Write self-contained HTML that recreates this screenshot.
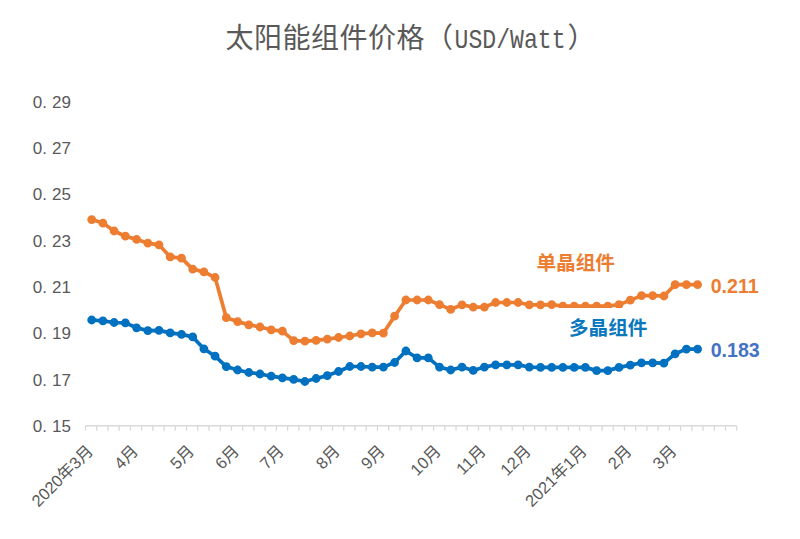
<!DOCTYPE html>
<html lang="zh"><head><meta charset="utf-8"><title>Solar module price</title>
<style>
html,body{margin:0;padding:0;background:#fff;font-family:"Liberation Sans",sans-serif;}
body{width:800px;height:539px;overflow:hidden;}
svg{display:block;}
</style></head><body>
<svg width="800" height="539" viewBox="0 0 800 539" role="img" aria-label="太阳能组件价格（USD/Watt）"><title>太阳能组件价格（USD/Watt）</title><desc>单晶组件 0.211, 多晶组件 0.183; 2020年3月 – 2021年3月; y axis 0.15 – 0.29</desc><rect width="800" height="539" fill="#fff"/>
<path d="M85.50 425.75H736.75M85.50 425.75v5M96.73 425.75v5M107.96 425.75v5M119.19 425.75v5M130.41 425.75v5M141.64 425.75v5M152.87 425.75v5M164.10 425.75v5M175.33 425.75v5M186.56 425.75v5M197.78 425.75v5M209.01 425.75v5M220.24 425.75v5M231.47 425.75v5M242.70 425.75v5M253.93 425.75v5M265.16 425.75v5M276.38 425.75v5M287.61 425.75v5M298.84 425.75v5M310.07 425.75v5M321.30 425.75v5M332.53 425.75v5M343.75 425.75v5M354.98 425.75v5M366.21 425.75v5M377.44 425.75v5M388.67 425.75v5M399.90 425.75v5M411.12 425.75v5M422.35 425.75v5M433.58 425.75v5M444.81 425.75v5M456.04 425.75v5M467.27 425.75v5M478.50 425.75v5M489.72 425.75v5M500.95 425.75v5M512.18 425.75v5M523.41 425.75v5M534.64 425.75v5M545.87 425.75v5M557.09 425.75v5M568.32 425.75v5M579.55 425.75v5M590.78 425.75v5M602.01 425.75v5M613.24 425.75v5M624.47 425.75v5M635.69 425.75v5M646.92 425.75v5M658.15 425.75v5M669.38 425.75v5M680.61 425.75v5M691.84 425.75v5M703.06 425.75v5M714.29 425.75v5M725.52 425.75v5M736.75 425.75v5" fill="none" stroke="#D9D9D9" stroke-width="1.3"/>
<polyline points="91.7,219.6 102.9,223.1 114.1,231.0 125.4,236.2 136.6,239.4 147.8,243.1 159.0,244.8 170.2,256.9 181.5,258.2 192.7,269.1 203.9,271.9 215.1,277.5 226.3,317.7 237.6,321.6 248.8,324.8 260.0,327.0 271.2,329.8 282.4,331.2 293.7,340.6 304.9,341.2 316.1,340.4 327.3,339.1 338.5,337.5 349.8,336.0 361.0,333.8 372.2,332.9 383.4,333.1 394.6,316.2 405.9,300.0 417.1,300.0 428.3,300.0 439.5,304.6 450.7,309.4 462.0,304.8 473.2,307.1 484.4,307.1 495.6,302.5 506.8,302.5 518.1,302.5 529.3,304.8 540.5,304.8 551.7,304.6 562.9,306.2 574.2,306.2 585.4,306.2 596.6,306.2 607.8,306.2 619.0,304.6 630.3,300.2 641.5,295.6 652.7,295.6 663.9,296.0 675.1,284.6 686.4,284.6 697.6,284.6" fill="none" stroke="#ED7D31" stroke-width="3.7" stroke-linejoin="round" stroke-linecap="round"/><path d="M91.7 219.6m-4.4 0a4.4 4.4 0 1 0 8.8 0a4.4 4.4 0 1 0 -8.8 0zM102.9 223.1m-4.4 0a4.4 4.4 0 1 0 8.8 0a4.4 4.4 0 1 0 -8.8 0zM114.1 231.0m-4.4 0a4.4 4.4 0 1 0 8.8 0a4.4 4.4 0 1 0 -8.8 0zM125.4 236.2m-4.4 0a4.4 4.4 0 1 0 8.8 0a4.4 4.4 0 1 0 -8.8 0zM136.6 239.4m-4.4 0a4.4 4.4 0 1 0 8.8 0a4.4 4.4 0 1 0 -8.8 0zM147.8 243.1m-4.4 0a4.4 4.4 0 1 0 8.8 0a4.4 4.4 0 1 0 -8.8 0zM159.0 244.8m-4.4 0a4.4 4.4 0 1 0 8.8 0a4.4 4.4 0 1 0 -8.8 0zM170.2 256.9m-4.4 0a4.4 4.4 0 1 0 8.8 0a4.4 4.4 0 1 0 -8.8 0zM181.5 258.2m-4.4 0a4.4 4.4 0 1 0 8.8 0a4.4 4.4 0 1 0 -8.8 0zM192.7 269.1m-4.4 0a4.4 4.4 0 1 0 8.8 0a4.4 4.4 0 1 0 -8.8 0zM203.9 271.9m-4.4 0a4.4 4.4 0 1 0 8.8 0a4.4 4.4 0 1 0 -8.8 0zM215.1 277.5m-4.4 0a4.4 4.4 0 1 0 8.8 0a4.4 4.4 0 1 0 -8.8 0zM226.3 317.7m-4.4 0a4.4 4.4 0 1 0 8.8 0a4.4 4.4 0 1 0 -8.8 0zM237.6 321.6m-4.4 0a4.4 4.4 0 1 0 8.8 0a4.4 4.4 0 1 0 -8.8 0zM248.8 324.8m-4.4 0a4.4 4.4 0 1 0 8.8 0a4.4 4.4 0 1 0 -8.8 0zM260.0 327.0m-4.4 0a4.4 4.4 0 1 0 8.8 0a4.4 4.4 0 1 0 -8.8 0zM271.2 329.8m-4.4 0a4.4 4.4 0 1 0 8.8 0a4.4 4.4 0 1 0 -8.8 0zM282.4 331.2m-4.4 0a4.4 4.4 0 1 0 8.8 0a4.4 4.4 0 1 0 -8.8 0zM293.7 340.6m-4.4 0a4.4 4.4 0 1 0 8.8 0a4.4 4.4 0 1 0 -8.8 0zM304.9 341.2m-4.4 0a4.4 4.4 0 1 0 8.8 0a4.4 4.4 0 1 0 -8.8 0zM316.1 340.4m-4.4 0a4.4 4.4 0 1 0 8.8 0a4.4 4.4 0 1 0 -8.8 0zM327.3 339.1m-4.4 0a4.4 4.4 0 1 0 8.8 0a4.4 4.4 0 1 0 -8.8 0zM338.5 337.5m-4.4 0a4.4 4.4 0 1 0 8.8 0a4.4 4.4 0 1 0 -8.8 0zM349.8 336.0m-4.4 0a4.4 4.4 0 1 0 8.8 0a4.4 4.4 0 1 0 -8.8 0zM361.0 333.8m-4.4 0a4.4 4.4 0 1 0 8.8 0a4.4 4.4 0 1 0 -8.8 0zM372.2 332.9m-4.4 0a4.4 4.4 0 1 0 8.8 0a4.4 4.4 0 1 0 -8.8 0zM383.4 333.1m-4.4 0a4.4 4.4 0 1 0 8.8 0a4.4 4.4 0 1 0 -8.8 0zM394.6 316.2m-4.4 0a4.4 4.4 0 1 0 8.8 0a4.4 4.4 0 1 0 -8.8 0zM405.9 300.0m-4.4 0a4.4 4.4 0 1 0 8.8 0a4.4 4.4 0 1 0 -8.8 0zM417.1 300.0m-4.4 0a4.4 4.4 0 1 0 8.8 0a4.4 4.4 0 1 0 -8.8 0zM428.3 300.0m-4.4 0a4.4 4.4 0 1 0 8.8 0a4.4 4.4 0 1 0 -8.8 0zM439.5 304.6m-4.4 0a4.4 4.4 0 1 0 8.8 0a4.4 4.4 0 1 0 -8.8 0zM450.7 309.4m-4.4 0a4.4 4.4 0 1 0 8.8 0a4.4 4.4 0 1 0 -8.8 0zM462.0 304.8m-4.4 0a4.4 4.4 0 1 0 8.8 0a4.4 4.4 0 1 0 -8.8 0zM473.2 307.1m-4.4 0a4.4 4.4 0 1 0 8.8 0a4.4 4.4 0 1 0 -8.8 0zM484.4 307.1m-4.4 0a4.4 4.4 0 1 0 8.8 0a4.4 4.4 0 1 0 -8.8 0zM495.6 302.5m-4.4 0a4.4 4.4 0 1 0 8.8 0a4.4 4.4 0 1 0 -8.8 0zM506.8 302.5m-4.4 0a4.4 4.4 0 1 0 8.8 0a4.4 4.4 0 1 0 -8.8 0zM518.1 302.5m-4.4 0a4.4 4.4 0 1 0 8.8 0a4.4 4.4 0 1 0 -8.8 0zM529.3 304.8m-4.4 0a4.4 4.4 0 1 0 8.8 0a4.4 4.4 0 1 0 -8.8 0zM540.5 304.8m-4.4 0a4.4 4.4 0 1 0 8.8 0a4.4 4.4 0 1 0 -8.8 0zM551.7 304.6m-4.4 0a4.4 4.4 0 1 0 8.8 0a4.4 4.4 0 1 0 -8.8 0zM562.9 306.2m-4.4 0a4.4 4.4 0 1 0 8.8 0a4.4 4.4 0 1 0 -8.8 0zM574.2 306.2m-4.4 0a4.4 4.4 0 1 0 8.8 0a4.4 4.4 0 1 0 -8.8 0zM585.4 306.2m-4.4 0a4.4 4.4 0 1 0 8.8 0a4.4 4.4 0 1 0 -8.8 0zM596.6 306.2m-4.4 0a4.4 4.4 0 1 0 8.8 0a4.4 4.4 0 1 0 -8.8 0zM607.8 306.2m-4.4 0a4.4 4.4 0 1 0 8.8 0a4.4 4.4 0 1 0 -8.8 0zM619.0 304.6m-4.4 0a4.4 4.4 0 1 0 8.8 0a4.4 4.4 0 1 0 -8.8 0zM630.3 300.2m-4.4 0a4.4 4.4 0 1 0 8.8 0a4.4 4.4 0 1 0 -8.8 0zM641.5 295.6m-4.4 0a4.4 4.4 0 1 0 8.8 0a4.4 4.4 0 1 0 -8.8 0zM652.7 295.6m-4.4 0a4.4 4.4 0 1 0 8.8 0a4.4 4.4 0 1 0 -8.8 0zM663.9 296.0m-4.4 0a4.4 4.4 0 1 0 8.8 0a4.4 4.4 0 1 0 -8.8 0zM675.1 284.6m-4.4 0a4.4 4.4 0 1 0 8.8 0a4.4 4.4 0 1 0 -8.8 0zM686.4 284.6m-4.4 0a4.4 4.4 0 1 0 8.8 0a4.4 4.4 0 1 0 -8.8 0zM697.6 284.6m-4.4 0a4.4 4.4 0 1 0 8.8 0a4.4 4.4 0 1 0 -8.8 0z" fill="#ED7D31"/>
<rect x="556.5" y="308" width="66" height="34" fill="#fff"/>
<polyline points="91.7,320.0 102.9,320.9 114.1,322.5 125.4,322.9 136.6,327.8 147.8,330.6 159.0,330.4 170.2,332.9 181.5,334.4 192.7,336.9 203.9,348.8 215.1,356.2 226.3,366.6 237.6,370.0 248.8,372.5 260.0,374.0 271.2,376.2 282.4,377.8 293.7,379.4 304.9,381.5 316.1,378.5 327.3,375.6 338.5,371.5 349.8,366.5 361.0,366.5 372.2,367.1 383.4,367.1 394.6,362.5 405.9,351.0 417.1,357.9 428.3,357.9 439.5,367.1 450.7,370.0 462.0,367.1 473.2,370.4 484.4,367.1 495.6,364.8 506.8,364.8 518.1,364.8 529.3,367.1 540.5,367.4 551.7,367.4 562.9,367.4 574.2,367.4 585.4,367.4 596.6,370.6 607.8,370.6 619.0,367.4 630.3,365.1 641.5,362.8 652.7,362.8 663.9,363.1 675.1,353.8 686.4,349.1 697.6,349.1" fill="none" stroke="#0070C0" stroke-width="3.7" stroke-linejoin="round" stroke-linecap="round"/><path d="M91.7 320.0m-4.4 0a4.4 4.4 0 1 0 8.8 0a4.4 4.4 0 1 0 -8.8 0zM102.9 320.9m-4.4 0a4.4 4.4 0 1 0 8.8 0a4.4 4.4 0 1 0 -8.8 0zM114.1 322.5m-4.4 0a4.4 4.4 0 1 0 8.8 0a4.4 4.4 0 1 0 -8.8 0zM125.4 322.9m-4.4 0a4.4 4.4 0 1 0 8.8 0a4.4 4.4 0 1 0 -8.8 0zM136.6 327.8m-4.4 0a4.4 4.4 0 1 0 8.8 0a4.4 4.4 0 1 0 -8.8 0zM147.8 330.6m-4.4 0a4.4 4.4 0 1 0 8.8 0a4.4 4.4 0 1 0 -8.8 0zM159.0 330.4m-4.4 0a4.4 4.4 0 1 0 8.8 0a4.4 4.4 0 1 0 -8.8 0zM170.2 332.9m-4.4 0a4.4 4.4 0 1 0 8.8 0a4.4 4.4 0 1 0 -8.8 0zM181.5 334.4m-4.4 0a4.4 4.4 0 1 0 8.8 0a4.4 4.4 0 1 0 -8.8 0zM192.7 336.9m-4.4 0a4.4 4.4 0 1 0 8.8 0a4.4 4.4 0 1 0 -8.8 0zM203.9 348.8m-4.4 0a4.4 4.4 0 1 0 8.8 0a4.4 4.4 0 1 0 -8.8 0zM215.1 356.2m-4.4 0a4.4 4.4 0 1 0 8.8 0a4.4 4.4 0 1 0 -8.8 0zM226.3 366.6m-4.4 0a4.4 4.4 0 1 0 8.8 0a4.4 4.4 0 1 0 -8.8 0zM237.6 370.0m-4.4 0a4.4 4.4 0 1 0 8.8 0a4.4 4.4 0 1 0 -8.8 0zM248.8 372.5m-4.4 0a4.4 4.4 0 1 0 8.8 0a4.4 4.4 0 1 0 -8.8 0zM260.0 374.0m-4.4 0a4.4 4.4 0 1 0 8.8 0a4.4 4.4 0 1 0 -8.8 0zM271.2 376.2m-4.4 0a4.4 4.4 0 1 0 8.8 0a4.4 4.4 0 1 0 -8.8 0zM282.4 377.8m-4.4 0a4.4 4.4 0 1 0 8.8 0a4.4 4.4 0 1 0 -8.8 0zM293.7 379.4m-4.4 0a4.4 4.4 0 1 0 8.8 0a4.4 4.4 0 1 0 -8.8 0zM304.9 381.5m-4.4 0a4.4 4.4 0 1 0 8.8 0a4.4 4.4 0 1 0 -8.8 0zM316.1 378.5m-4.4 0a4.4 4.4 0 1 0 8.8 0a4.4 4.4 0 1 0 -8.8 0zM327.3 375.6m-4.4 0a4.4 4.4 0 1 0 8.8 0a4.4 4.4 0 1 0 -8.8 0zM338.5 371.5m-4.4 0a4.4 4.4 0 1 0 8.8 0a4.4 4.4 0 1 0 -8.8 0zM349.8 366.5m-4.4 0a4.4 4.4 0 1 0 8.8 0a4.4 4.4 0 1 0 -8.8 0zM361.0 366.5m-4.4 0a4.4 4.4 0 1 0 8.8 0a4.4 4.4 0 1 0 -8.8 0zM372.2 367.1m-4.4 0a4.4 4.4 0 1 0 8.8 0a4.4 4.4 0 1 0 -8.8 0zM383.4 367.1m-4.4 0a4.4 4.4 0 1 0 8.8 0a4.4 4.4 0 1 0 -8.8 0zM394.6 362.5m-4.4 0a4.4 4.4 0 1 0 8.8 0a4.4 4.4 0 1 0 -8.8 0zM405.9 351.0m-4.4 0a4.4 4.4 0 1 0 8.8 0a4.4 4.4 0 1 0 -8.8 0zM417.1 357.9m-4.4 0a4.4 4.4 0 1 0 8.8 0a4.4 4.4 0 1 0 -8.8 0zM428.3 357.9m-4.4 0a4.4 4.4 0 1 0 8.8 0a4.4 4.4 0 1 0 -8.8 0zM439.5 367.1m-4.4 0a4.4 4.4 0 1 0 8.8 0a4.4 4.4 0 1 0 -8.8 0zM450.7 370.0m-4.4 0a4.4 4.4 0 1 0 8.8 0a4.4 4.4 0 1 0 -8.8 0zM462.0 367.1m-4.4 0a4.4 4.4 0 1 0 8.8 0a4.4 4.4 0 1 0 -8.8 0zM473.2 370.4m-4.4 0a4.4 4.4 0 1 0 8.8 0a4.4 4.4 0 1 0 -8.8 0zM484.4 367.1m-4.4 0a4.4 4.4 0 1 0 8.8 0a4.4 4.4 0 1 0 -8.8 0zM495.6 364.8m-4.4 0a4.4 4.4 0 1 0 8.8 0a4.4 4.4 0 1 0 -8.8 0zM506.8 364.8m-4.4 0a4.4 4.4 0 1 0 8.8 0a4.4 4.4 0 1 0 -8.8 0zM518.1 364.8m-4.4 0a4.4 4.4 0 1 0 8.8 0a4.4 4.4 0 1 0 -8.8 0zM529.3 367.1m-4.4 0a4.4 4.4 0 1 0 8.8 0a4.4 4.4 0 1 0 -8.8 0zM540.5 367.4m-4.4 0a4.4 4.4 0 1 0 8.8 0a4.4 4.4 0 1 0 -8.8 0zM551.7 367.4m-4.4 0a4.4 4.4 0 1 0 8.8 0a4.4 4.4 0 1 0 -8.8 0zM562.9 367.4m-4.4 0a4.4 4.4 0 1 0 8.8 0a4.4 4.4 0 1 0 -8.8 0zM574.2 367.4m-4.4 0a4.4 4.4 0 1 0 8.8 0a4.4 4.4 0 1 0 -8.8 0zM585.4 367.4m-4.4 0a4.4 4.4 0 1 0 8.8 0a4.4 4.4 0 1 0 -8.8 0zM596.6 370.6m-4.4 0a4.4 4.4 0 1 0 8.8 0a4.4 4.4 0 1 0 -8.8 0zM607.8 370.6m-4.4 0a4.4 4.4 0 1 0 8.8 0a4.4 4.4 0 1 0 -8.8 0zM619.0 367.4m-4.4 0a4.4 4.4 0 1 0 8.8 0a4.4 4.4 0 1 0 -8.8 0zM630.3 365.1m-4.4 0a4.4 4.4 0 1 0 8.8 0a4.4 4.4 0 1 0 -8.8 0zM641.5 362.8m-4.4 0a4.4 4.4 0 1 0 8.8 0a4.4 4.4 0 1 0 -8.8 0zM652.7 362.8m-4.4 0a4.4 4.4 0 1 0 8.8 0a4.4 4.4 0 1 0 -8.8 0zM663.9 363.1m-4.4 0a4.4 4.4 0 1 0 8.8 0a4.4 4.4 0 1 0 -8.8 0zM675.1 353.8m-4.4 0a4.4 4.4 0 1 0 8.8 0a4.4 4.4 0 1 0 -8.8 0zM686.4 349.1m-4.4 0a4.4 4.4 0 1 0 8.8 0a4.4 4.4 0 1 0 -8.8 0zM697.6 349.1m-4.4 0a4.4 4.4 0 1 0 8.8 0a4.4 4.4 0 1 0 -8.8 0z" fill="#0070C0"/>
<g fill="#595959" font-family="&quot;Liberation Sans&quot;, &quot;Noto Sans CJK SC&quot;, sans-serif" font-size="28">
<text x="225.5" y="48.3" letter-spacing="0.5">太阳能组件价格（</text>
<text x="454.5" y="48.1" font-family="&quot;Liberation Mono&quot;, monospace" textLength="111" lengthAdjust="spacingAndGlyphs">USD/Watt</text>
<text x="567.5" y="48.3">）</text>
</g>
<g fill="#595959" font-family="&quot;Liberation Sans&quot;, sans-serif" font-size="17">
<text x="32.8" y="107.85">0.<tspan x="52">29</tspan></text>
<text x="32.8" y="154.17">0.<tspan x="52">27</tspan></text>
<text x="32.8" y="200.49">0.<tspan x="52">25</tspan></text>
<text x="32.8" y="246.81">0.<tspan x="52">23</tspan></text>
<text x="32.8" y="293.14">0.<tspan x="52">21</tspan></text>
<text x="32.8" y="339.46">0.<tspan x="52">19</tspan></text>
<text x="32.8" y="385.78">0.<tspan x="52">17</tspan></text>
<text x="32.8" y="432.1">0.<tspan x="52">15</tspan></text>
</g>
<g fill="#595959" font-family="&quot;Liberation Sans&quot;, &quot;Noto Sans CJK SC&quot;, sans-serif" font-size="16.5" text-anchor="end">
<text x="94.2" y="452" transform="rotate(-45 94.2 452)">2020年3月</text>
<text x="139.1" y="452" transform="rotate(-45 139.1 452)">4月</text>
<text x="195.2" y="452" transform="rotate(-45 195.2 452)">5月</text>
<text x="240.1" y="452" transform="rotate(-45 240.1 452)">6月</text>
<text x="284.9" y="452" transform="rotate(-45 284.9 452)">7月</text>
<text x="341" y="452" transform="rotate(-45 341 452)">8月</text>
<text x="385.9" y="452" transform="rotate(-45 385.9 452)">9月</text>
<text x="442" y="452" transform="rotate(-45 442 452)">10月</text>
<text x="486.9" y="452" transform="rotate(-45 486.9 452)">11月</text>
<text x="531.8" y="452" transform="rotate(-45 531.8 452)">12月</text>
<text x="587.9" y="452" transform="rotate(-45 587.9 452)">2021年1月</text>
<text x="632.8" y="452" transform="rotate(-45 632.8 452)">2月</text>
<text x="677.6" y="452" transform="rotate(-45 677.6 452)">3月</text>
</g>
<text x="536.5" y="270" font-family="&quot;Liberation Sans&quot;, &quot;Noto Sans CJK SC&quot;, sans-serif" font-size="19.6" font-weight="bold" fill="#ED7D31">单晶组件</text>
<text x="569" y="335.3" font-family="&quot;Liberation Sans&quot;, &quot;Noto Sans CJK SC&quot;, sans-serif" font-size="19.6" font-weight="bold" fill="#0B78BE">多晶组件</text>
<text x="710.7" y="292.65" font-family="&quot;Liberation Sans&quot;, sans-serif" font-size="19.6" font-weight="bold" fill="#ED7D31">0.211</text>
<text x="710.7" y="357" font-family="&quot;Liberation Sans&quot;, sans-serif" font-size="19.6" font-weight="bold" fill="#4472C4">0.183</text>
</svg>
</body></html>
